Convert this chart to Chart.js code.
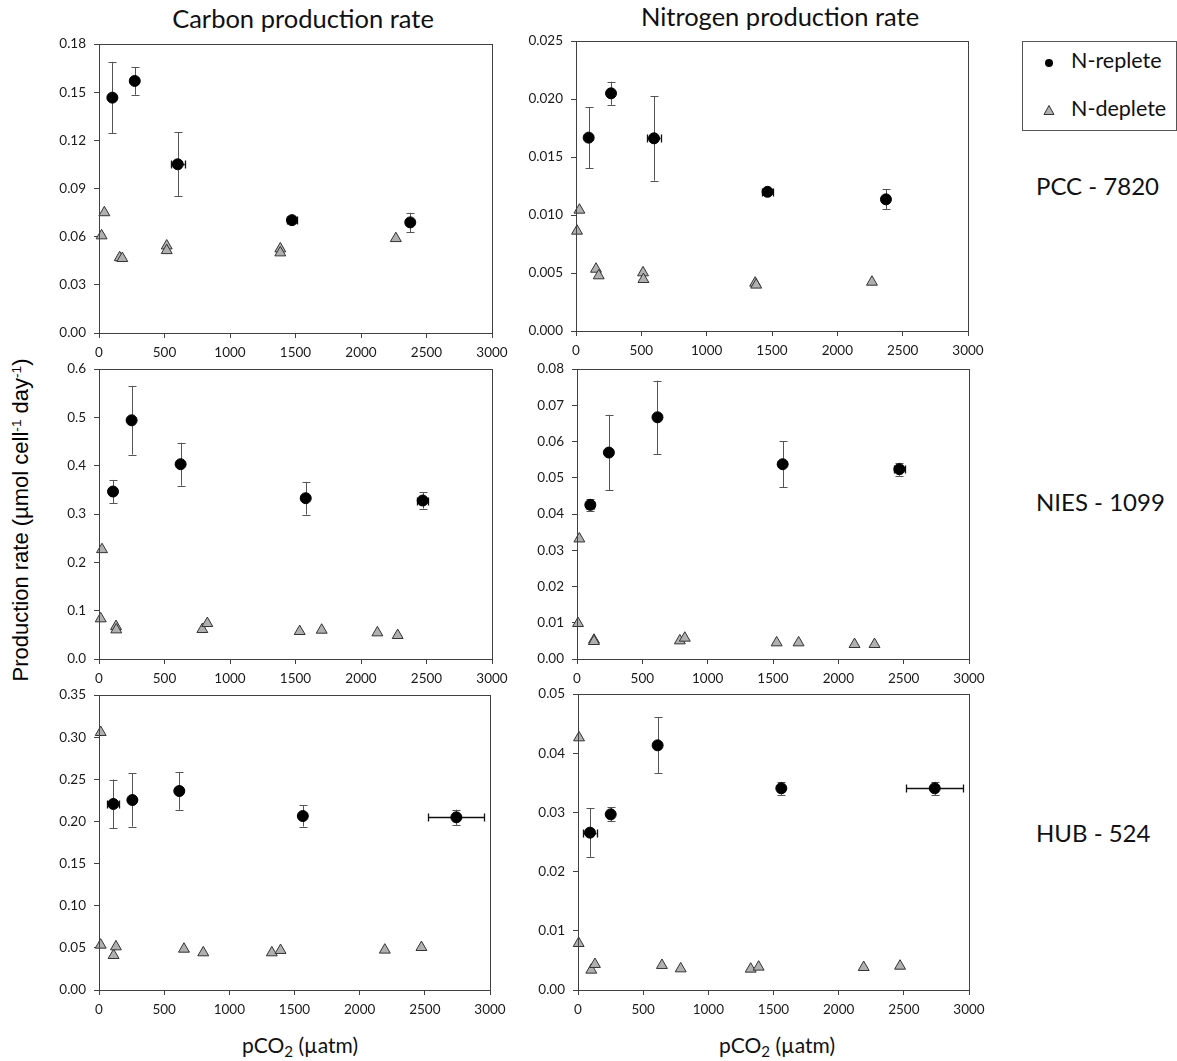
<!DOCTYPE html>
<html><head><meta charset="utf-8">
<script src="https://cdn.jsdelivr.net/npm/chart.js@4.4.1/dist/chart.umd.min.js"></script>
<style>
html,body{margin:0;padding:0;background:#fff}
body{width:1177px;height:1061px;position:relative;overflow:hidden}
canvas{position:absolute}
.t{position:absolute;font-family:Lato,"Open Sans",sans-serif;color:#111;white-space:nowrap}
.legend{position:absolute;left:1022px;top:41px;width:153px;height:88px;border:1px solid #555;background:#fff}
sub{font-size:0.72em;vertical-align:-0.28em;line-height:0}
sup{font-size:0.62em;vertical-align:0.55em;line-height:0}
</style></head>
<body>
<div class="t" style="left:303px;top:3px;font-size:25.5px;line-height:30.6px;transform:translateX(-50%)">Carbon production rate</div>
<div class="t" style="left:780px;top:1px;font-size:25.5px;line-height:30.6px;transform:translateX(-50%)">Nitrogen production rate</div>
<div class="t" style="left:1036px;top:172px;font-size:24px;line-height:28.8px">PCC - 7820</div>
<div class="t" style="left:1036px;top:488px;font-size:24px;line-height:28.8px">NIES - 1099</div>
<div class="t" style="left:1036px;top:819px;font-size:24px;line-height:28.8px">HUB - 524</div>
<div class="t" style="left:300px;top:1032px;font-size:21px;line-height:25.2px;transform:translateX(-50%)">pCO<sub>2</sub> (µatm)</div>
<div class="t" style="left:777px;top:1032px;font-size:21px;line-height:25.2px;transform:translateX(-50%)">pCO<sub>2</sub> (µatm)</div>
<div class="t" style="left:21px;top:520px;font-family:'Liberation Sans',Arial,sans-serif;font-size:22px;line-height:24px;color:#000;transform:translate(-50%,-50%) rotate(-90deg)">Production rate (µmol cell<sup>-1</sup> day<sup>-1</sup>)</div>
<div class="legend">
  <svg style="position:absolute;left:21px;top:16px" width="10" height="10"><circle cx="5" cy="5" r="4" fill="#000"/></svg>
  <div class="t" style="left:48px;top:6px;font-size:21.5px;line-height:25.8px">N-replete</div>
  <svg style="position:absolute;left:20px;top:62px" width="12" height="12"><polygon points="6,1.5 11,10.5 1,10.5" fill="#b0b0b0" stroke="#333" stroke-width="1"/></svg>
  <div class="t" style="left:48px;top:54px;font-size:21.5px;line-height:25.8px">N-deplete</div>
</div>
<script>
// ---------- DATA ----------
const xTicks = [0, 500, 1000, 1500, 2000, 2500, 3000];

// PCC-7820, carbon
const pccC_repX = [102, 273, 601, 1473, 2376];
const pccC_repY = [0.1466, 0.157, 0.1051, 0.0703, 0.0689];
const pccC_repYErr = [0.0223, 0.0086, 0.0200, 0.0015, 0.0060];
const pccC_repXErr = [0, 0, 53, 40, 0];
const pccC_depX = [20, 41, 158, 178, 517, 517, 1384, 1384, 2266];
const pccC_depY = [0.0606, 0.0750, 0.0470, 0.0465, 0.0543, 0.0514, 0.0525, 0.0500, 0.0589];
const pccC_yTicks = [0, 0.03, 0.06, 0.09, 0.12, 0.15, 0.18];

// PCC-7820, nitrogen
const pccN_repX = [97, 268, 597, 1466, 2372];
const pccN_repY = [0.01667, 0.02049, 0.01661, 0.0120, 0.01135];
const pccN_repYErr = [0.00263, 0.0010, 0.00365, 0.0002, 0.00085];
const pccN_repXErr = [0, 0, 50, 40, 0];
const pccN_depX = [8, 26, 153, 174, 513, 516, 1371, 1379, 2265];
const pccN_depY = [0.00862, 0.01043, 0.00534, 0.00477, 0.00503, 0.00445, 0.00414, 0.00397, 0.00422];
const pccN_yTicks = [0, 0.005, 0.010, 0.015, 0.020, 0.025];

// NIES-1099, carbon
const niesC_repX = [107, 249, 623, 1578, 2471];
const niesC_repY = [0.3465, 0.4939, 0.403, 0.3327, 0.3279];
const niesC_repYErr = [0.024, 0.071, 0.0445, 0.0338, 0.0166];
const niesC_repXErr = [0, 0, 0, 0, 40];
const niesC_depX = [23, 13, 130, 132, 789, 827, 1532, 1700, 2125, 2280];
const niesC_depY = [0.2266, 0.0834, 0.0675, 0.0606, 0.0613, 0.0737, 0.0572, 0.0599, 0.0544, 0.0489];
const niesC_yTicks = [0, 0.1, 0.2, 0.3, 0.4, 0.5, 0.6];

// NIES-1099, nitrogen
const niesN_repX = [102, 244, 616, 1574, 2467];
const niesN_repY = [0.04253, 0.05695, 0.06668, 0.05373, 0.05235];
const niesN_repYErr = [0.0016, 0.0104, 0.0101, 0.0063, 0.0018];
const niesN_repXErr = [30, 0, 0, 0, 40];
const niesN_depX = [18, 8, 130, 130, 787, 825, 1528, 1696, 2124, 2277];
const niesN_depY = [0.03316, 0.00983, 0.00524, 0.00487, 0.00505, 0.00579, 0.0045, 0.0045, 0.00404, 0.00404];
const niesN_yTicks = [0, 0.01, 0.02, 0.03, 0.04, 0.05, 0.06, 0.07, 0.08];

// HUB-524, carbon
const hubC_repX = [110, 256, 616, 1564, 2742];
const hubC_repY = [0.2207, 0.2254, 0.2361, 0.2064, 0.2049];
const hubC_repYErr = [0.029, 0.0315, 0.0223, 0.0125, 0.0091];
const hubC_repXErr = [45, 0, 0, 0, 215];
const hubC_depX = [13, 13, 112, 130, 652, 800, 1326, 1393, 2193, 2474];
const hubC_depY = [0.3057, 0.0534, 0.0411, 0.0514, 0.0486, 0.0443, 0.0443, 0.0471, 0.0475, 0.0506];
const hubC_yTicks = [0, 0.05, 0.10, 0.15, 0.20, 0.25, 0.30, 0.35];

// HUB-524, nitrogen
const hubN_repX = [92, 251, 611, 1560, 2737];
const hubN_repY = [0.02658, 0.02967, 0.04133, 0.03407, 0.03407];
const hubN_repYErr = [0.0041, 0.0012, 0.00473, 0.0011, 0.0011];
const hubN_repXErr = [50, 0, 0, 0, 217];
const hubN_depX = [8, 5, 102, 130, 644, 788, 1325, 1386, 2192, 2471];
const hubN_depY = [0.04262, 0.00788, 0.00338, 0.00434, 0.00417, 0.0036, 0.00355, 0.00389, 0.00383, 0.00405];
const hubN_yTicks = [0, 0.01, 0.02, 0.03, 0.04, 0.05];

// ---------- PLUGINS ----------
const frame = {
  id: 'frame',
  afterDraw(chart) {
    const a = chart.chartArea, c = chart.ctx;
    c.save();
    c.strokeStyle = '#404040'; c.lineWidth = 1;
    c.strokeRect(Math.round(a.left) + 0.5, Math.round(a.top) + 0.5,
                 Math.round(a.right - a.left), Math.round(a.bottom - a.top));
    c.restore();
  }
};
const errorBars = {
  id: 'errorBars',
  beforeDatasetsDraw(chart) {
    const c = chart.ctx, xs = chart.scales.x, ys = chart.scales.y;
    chart.data.datasets.forEach(ds => {
      if (!ds.errY && !ds.errX) return;
      ds.data.forEach((p, i) => {
        const px = xs.getPixelForValue(p.x), py = ys.getPixelForValue(p.y);
        c.save();
        const ey = ds.errY ? ds.errY[i] : 0;
        if (ey > 0) {
          const t = ys.getPixelForValue(p.y + ey), b = ys.getPixelForValue(p.y - ey);
          const X = Math.round(px) + 0.5;
          c.strokeStyle = '#555'; c.lineWidth = 1;
          c.beginPath();
          c.moveTo(X, t); c.lineTo(X, b);
          c.moveTo(X - 4, Math.round(t) + 0.5); c.lineTo(X + 4, Math.round(t) + 0.5);
          c.moveTo(X - 4, Math.round(b) + 0.5); c.lineTo(X + 4, Math.round(b) + 0.5);
          c.stroke();
        }
        const ex = ds.errX ? ds.errX[i] : 0;
        if (ex > 0) {
          const l = xs.getPixelForValue(p.x - ex), r = xs.getPixelForValue(p.x + ex);
          const Y = Math.round(py) + 0.5;
          c.strokeStyle = '#111'; c.lineWidth = 1.3;
          c.beginPath();
          c.moveTo(l, Y); c.lineTo(r, Y);
          c.moveTo(Math.round(l) + 0.5, Y - 4); c.lineTo(Math.round(l) + 0.5, Y + 4);
          c.moveTo(Math.round(r) + 0.5, Y - 4); c.lineTo(Math.round(r) + 0.5, Y + 4);
          c.stroke();
        }
        c.restore();
      });
    });
  }
};

const tickFont = { family: 'Lato', size: 13.5 };
const pts = (xa, ya) => xa.map((x, i) => ({ x: x, y: ya[i] }));
const PAD_T = 22, PAD_R = 32, AX_W = 60, AX_H = 30;

function panel(L, T, W, H, repX, repY, repYErr, repXErr, depX, depY, yTicks, dec) {
  const cv = document.createElement('canvas');
  const cw = W + AX_W + PAD_R, ch = H + PAD_T + AX_H;
  cv.width = cw; cv.height = ch;
  cv.style.left = (L - AX_W) + 'px'; cv.style.top = (T - PAD_T) + 'px';
  cv.style.width = cw + 'px'; cv.style.height = ch + 'px';
  document.body.appendChild(cv);
  new Chart(cv, {
    type: 'scatter',
    data: {
      datasets: [
        { label: 'N-deplete', data: pts(depX, depY), pointStyle: 'triangle', pointRadius: 6.3,
          backgroundColor: '#b0b0b0', borderColor: '#333', borderWidth: 1, clip: false },
        { label: 'N-replete', data: pts(repX, repY), errY: repYErr, errX: repXErr,
          pointStyle: 'circle', pointRadius: 5.5, backgroundColor: '#000', borderColor: '#000',
          borderWidth: 1, clip: false }
      ]
    },
    options: {
      responsive: false, animation: false, devicePixelRatio: 1, events: [],
      layout: { padding: { top: PAD_T, right: PAD_R, left: 0, bottom: 0 } },
      plugins: { legend: { display: false }, tooltip: { enabled: false } },
      scales: {
        x: {
          type: 'linear', min: 0, max: 3000,
          afterBuildTicks: s => { s.ticks = xTicks.map(v => ({ value: v })); },
          afterFit: s => { s.height = AX_H; },
          grid: { drawOnChartArea: false, drawTicks: true, tickLength: 5, color: '#404040' },
          border: { color: '#404040' },
          ticks: { font: tickFont, color: '#1a1a1a', padding: 7, maxRotation: 0, autoSkip: false,
                   callback: v => String(v) }
        },
        y: {
          type: 'linear', min: 0, max: yTicks[yTicks.length - 1],
          afterBuildTicks: s => { s.ticks = yTicks.map(v => ({ value: v })); },
          afterFit: s => { s.width = AX_W; },
          grid: { drawOnChartArea: false, drawTicks: true, tickLength: 5, color: '#404040' },
          border: { color: '#404040' },
          ticks: { font: tickFont, color: '#1a1a1a', padding: 8, autoSkip: false,
                   callback: v => Number(v).toFixed(dec) }
        }
      }
    },
    plugins: [errorBars, frame]
  });
}

panel(99, 44, 393, 289, pccC_repX, pccC_repY, pccC_repYErr, pccC_repXErr, pccC_depX, pccC_depY, pccC_yTicks, 2);
panel(576, 41, 392, 290, pccN_repX, pccN_repY, pccN_repYErr, pccN_repXErr, pccN_depX, pccN_depY, pccN_yTicks, 3);
panel(99, 369, 393, 290, niesC_repX, niesC_repY, niesC_repYErr, niesC_repXErr, niesC_depX, niesC_depY, niesC_yTicks, 1);
panel(577, 369, 392, 290, niesN_repX, niesN_repY, niesN_repYErr, niesN_repXErr, niesN_depX, niesN_depY, niesN_yTicks, 2);
panel(99, 695, 391, 295, hubC_repX, hubC_repY, hubC_repYErr, hubC_repXErr, hubC_depX, hubC_depY, hubC_yTicks, 2);
panel(578, 694, 391, 296, hubN_repX, hubN_repY, hubN_repYErr, hubN_repXErr, hubN_depX, hubN_depY, hubN_yTicks, 2);
</script>
</body></html>
